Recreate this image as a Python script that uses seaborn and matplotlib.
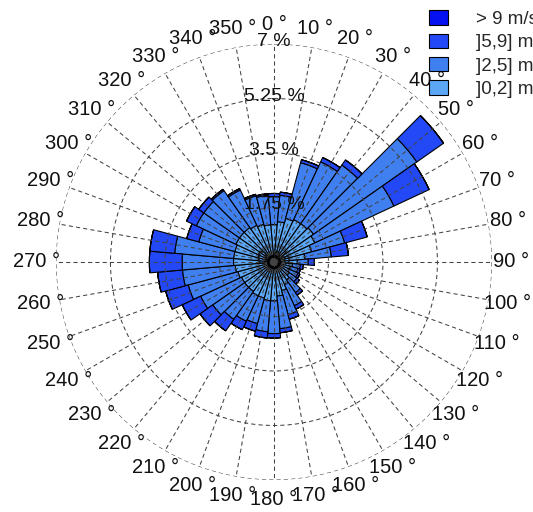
"""Wind rose: frequency (%) of wind speed classes per 10 degree sector."""
import numpy as np
import matplotlib
matplotlib.use("Agg")
import matplotlib.pyplot as plt
from matplotlib.patches import Patch
import seaborn as sns

# direction sectors (degrees, clockwise from north)
directions = list(range(0, 360, 10))

# frequency per speed class, in % (segment heights, stacked from the centre)
speed_0_2 = [1.20, 1.30, 1.45, 1.50, 1.50, 1.55, 1.45, 1.25, 1.00, 0.75, 0.60, 0.55,
             0.55, 0.60, 0.70, 0.80, 0.95, 1.10, 1.25, 1.25, 1.20, 1.20, 1.15, 1.15,
             1.15, 1.20, 1.25, 1.30, 1.30, 1.30, 1.35, 1.35, 1.35, 1.30, 1.25, 1.20]
speed_2_5 = [0.90, 0.85, 1.85, 2.05, 2.30, 4.05, 2.80, 1.10, 0.85, 0.35, 0.25, 0.25,
             0.30, 0.30, 0.50, 0.75, 0.80, 1.05, 1.05, 1.00, 0.85, 0.90, 1.10, 1.25,
             1.45, 1.65, 1.70, 1.65, 1.90, 1.20, 1.40, 1.40, 1.45, 1.25, 0.95, 0.95]
speed_5_9 = [0.10, 0.10, 0.10, 0.15, 0.20, 1.05, 1.25, 0.75, 0.55, 0.20, 0.10, 0.08,
             0.07, 0.10, 0.10, 0.12, 0.15, 0.13, 0.14, 0.20, 0.25, 0.30, 0.45, 0.50,
             0.65, 0.75, 0.80, 1.05, 0.80, 0.40, 0.35, 0.20, 0.05, 0.05, 0.05, 0.05]
speed_9_up = [0.0] * 36

class_labels = ["]0,2] m/s", "]2,5] m/s", "]5,9] m/s", "> 9 m/s"]
class_values = [speed_0_2, speed_2_5, speed_5_9, speed_9_up]
class_colors = ["#5BA6F5", "#3F7FF0", "#2348F5", "#0511F0"]

ring_ticks = [0, 1.75, 3.5, 5.25, 7]
ring_labels = ["0 %", "1.75 %", "3.5 %", "5.25 %", "7 %"]
angle_labels = [f"{a} °" for a in directions]


def main():
    sns.set_theme(style="white")
    plt.rcParams["font.family"] = ["Liberation Sans", "DejaVu Sans"]

    fig = plt.figure(figsize=(5.33, 5.12), dpi=100)
    ax = fig.add_axes([0.105, 0.0625, 0.818, 0.8516], projection="polar")
    ax.set_theta_zero_location("N")
    ax.set_theta_direction(-1)

    theta = np.deg2rad(directions)
    width = np.deg2rad(10)
    bottom = np.zeros(len(directions))
    for vals, col in zip(class_values, class_colors):
        vals = np.asarray(vals)
        ax.bar(theta, vals, width=width, bottom=bottom, color=col,
               edgecolor="black", linewidth=0.8, align="center")
        bottom += vals

    ax.set_ylim(0, 7)
    ax.set_rgrids(ring_ticks[1:], labels=[""] * 4)
    ax.set_thetagrids(directions, labels=angle_labels, fontsize=14.5, color="#111111")
    ax.tick_params(axis="x", pad=1)
    ax.set_axisbelow(False)
    ax.grid(True, color="#444444", linestyle=(0, (4, 3)), linewidth=0.75)
    ax.spines["polar"].set_visible(False)

    for r, lab in zip(ring_ticks, ring_labels):
        ax.text(0, r + 0.08, lab, ha="center", va="center", fontsize=14, color="#111111")

    handles = [Patch(facecolor=c, edgecolor="black", linewidth=0.8)
               for c in class_colors[::-1]]
    fig.legend(handles, class_labels[::-1], loc="upper left",
               bbox_to_anchor=(0.786, 1.0), frameon=False, fontsize=13.5,
               handlelength=1.0, handleheight=0.8, handletextpad=1.5,
               labelspacing=0.3, borderaxespad=0.15)

    fig.savefig("out.png", dpi=100)
    plt.close(fig)


if __name__ == "__main__":
    main()
